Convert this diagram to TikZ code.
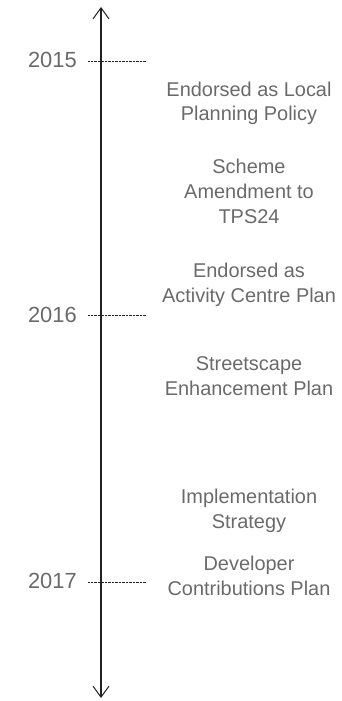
\documentclass[tikz,border=0pt]{standalone}
\usepackage{fontspec}
\setmainfont{Liberation Sans}
\usetikzlibrary{arrows.meta, positioning}
\definecolor{textgrey}{HTML}{6A6A6A}
\definecolor{axisblack}{HTML}{222222}

\begin{document}
\begin{tikzpicture}[x=1bp, y=-1bp,
    yearlabel/.style={anchor=base east, inner sep=0pt, text=textgrey,
        font=\fontsize{22}{25}\selectfont},
    milestone/.style={anchor=base, align=center, inner sep=0pt, text=textgrey,
        font=\fontsize{20}{25}\selectfont},
    tickline/.style={line width=0.8bp, dash pattern=on 0.7bp off 0.7bp, axisblack}]
\useasboundingbox (0,0) rectangle (341,701);

\coordinate (axistop) at (101,7);
\coordinate (axisbottom) at (101,698);

% Timeline axis
\draw[line width=1.6bp, axisblack, {Straight Barb[length=11bp, width=16bp, line width=1bp]}-{Straight Barb[length=11bp, width=16bp, line width=1bp]}]
    (axisbottom) -- (axistop);

% Year ticks and labels
\foreach \yr/\ty/\ly in {2015/61.7/68, 2016/315/322, 2017/582/588} {
    \coordinate (tickstart\yr) at (88,\ty);
    \coordinate (tickend\yr) at (146,\ty);
    \draw[tickline] (tickstart\yr) -- (tickend\yr);
    \node[yearlabel] (year\yr) at (77,\ly) {\yr};
}

% Milestones (anchored at the baseline of their last line)
\node[milestone] (localpolicy) at (249,121) {Endorsed as Local\\Planning Policy};
\node[milestone] (amendment) at (249,223) {Scheme\\Amendment to\\TPS24};
\node[milestone] (activitycentre) at (249,302) {Endorsed as\\Activity Centre Plan};
\node[milestone] (streetscape) at (249,395) {Streetscape\\Enhancement Plan};
\node[milestone] (implementation) at (249,528) {Implementation\\Strategy};
\node[milestone] (contributions) at (249,595) {Developer\\Contributions Plan};
\end{tikzpicture}
\end{document}
